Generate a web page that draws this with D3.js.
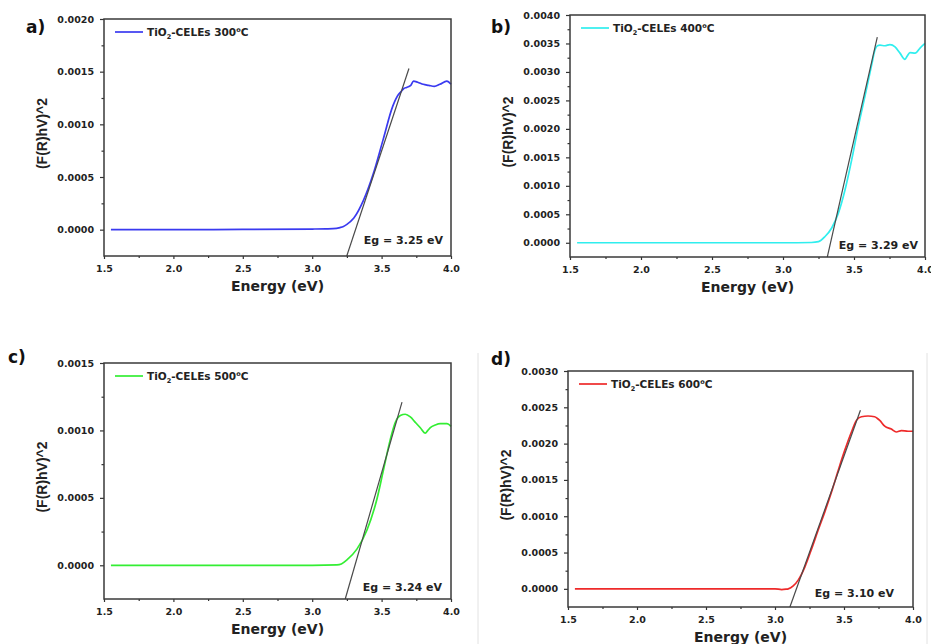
<!DOCTYPE html>
<html>
<head>
<meta charset="utf-8">
<script src="https://cdn.jsdelivr.net/npm/d3@7"></script>
<style>
  body { margin: 0; background: #fff; }
  svg { display: block; }
  .tick text { font-family: "DejaVu Sans", sans-serif; font-weight: bold; font-size: 9.5px; fill: #222; }
  .tick line { stroke: #333; stroke-width: 1.2; }
</style>
</head>
<body>
<svg id="chart" width="931" height="644"></svg>
<script>
// x ticks shared by all four panels
var energyTicks = [1.5, 2.0, 2.5, 3.0, 3.5, 4.0];
var energyMinor = [1.75, 2.25, 2.75, 3.25, 3.75];

// a) 300 C
var energyA = [1.55, 2.0, 2.5, 3.0, 3.1, 3.15, 3.2, 3.225, 3.25, 3.3, 3.37, 3.44, 3.51, 3.58, 3.62, 3.64, 3.66, 3.68, 3.71, 3.73, 3.76, 3.8, 3.84, 3.88, 3.92, 3.97, 4.0];
var fA = [0, 0, 0.000002, 0.000006, 0.000008, 0.00001, 0.00002, 0.00003, 0.00005, 0.00011, 0.00028, 0.00053, 0.00085, 0.00117, 0.00128, 0.00131, 0.00134, 0.00135, 0.00137, 0.00141, 0.0014, 0.00138, 0.00137, 0.00136, 0.00138, 0.00141, 0.00138];
var fitA = [[3.249, -0.00025], [3.697, 0.00153]];

// b) 400 C
var energyB = [1.55, 2.0, 2.5, 3.0, 3.2, 3.25, 3.296, 3.343, 3.39, 3.437, 3.484, 3.53, 3.577, 3.624, 3.648, 3.665, 3.683, 3.718, 3.753, 3.789, 3.824, 3.859, 3.875, 3.894, 3.93, 3.965, 4.0];
var fB = [0, 0, 0, 0, 0.000005, 0.00002, 0.00011, 0.00026, 0.00052, 0.00093, 0.00146, 0.00204, 0.00257, 0.00312, 0.00339, 0.00346, 0.00347, 0.00346, 0.00348, 0.00344, 0.00333, 0.00322, 0.00328, 0.00334, 0.00333, 0.00342, 0.0035];
var fitB = [[3.312, -0.00025], [3.664, 0.00361]];

// c) 500 C
var energyC = [1.55, 2.0, 2.5, 3.0, 3.178, 3.21, 3.25, 3.322, 3.394, 3.466, 3.514, 3.562, 3.599, 3.635, 3.671, 3.707, 3.743, 3.779, 3.815, 3.833, 3.851, 3.887, 3.923, 3.971, 4.0];
var fC = [0, 0, 0, 0, 0.000003, 0.00001, 0.00004, 0.00012, 0.00026, 0.00049, 0.00071, 0.00093, 0.00106, 0.00111, 0.00112, 0.0011, 0.00106, 0.00102, 0.00098, 0.001, 0.00102, 0.00104, 0.00105, 0.00105, 0.00103];
var fitC = [[3.238, -0.00025], [3.647, 0.00121]];

// d) 600 C
var energyD = [1.55, 2.0, 2.5, 3.0, 3.048, 3.08, 3.096, 3.132, 3.168, 3.216, 3.265, 3.313, 3.361, 3.409, 3.458, 3.506, 3.554, 3.59, 3.626, 3.674, 3.722, 3.74, 3.759, 3.795, 3.843, 3.879, 3.916, 3.964, 4.0];
var fD = [0, 0, 0, 0, -0.00001, -0.000005, 0, 0.00004, 0.00012, 0.0003, 0.00055, 0.00081, 0.00106, 0.00133, 0.00163, 0.00191, 0.00216, 0.00232, 0.00237, 0.00238, 0.00237, 0.00235, 0.00232, 0.00224, 0.0022, 0.00216, 0.00218, 0.00217, 0.00217];
var fitD = [[3.108, -0.00025], [3.619, 0.00246]];

var panelLetters = ["a)", "b)", "c)", "d)"];
var temps = ["300", "400", "500", "600"];
var bandGaps = ["3.25", "3.29", "3.24", "3.10"];
var yMaxes = [0.0020, 0.0040, 0.0015, 0.0030];
var colors = ["#3a3af0", "#30eeee", "#33ee33", "#ee2a2a"];

var svg = d3.select("#chart");

// panel d sits on a faintly bordered image in the original
svg.append("line").attr("x1", 478).attr("x2", 478).attr("y1", 353).attr("y2", 644)
    .attr("stroke", "#e2e2e2");
svg.append("line").attr("x1", 927).attr("x2", 927).attr("y1", 353).attr("y2", 644)
    .attr("stroke", "#e2e2e2");

function drawPanel(p) {
  var x = d3.scaleLinear()
      .domain([1.5, 4.0])
      .range([p.left, p.right]);
  var y = d3.scaleLinear()
      .domain([-0.00025, p.yMax])
      .range([p.bottom, p.top]);

  var g = svg.append("g");

  var yMajor = d3.range(0, p.yMax + 1e-9, 0.0005);
  var yMinor = d3.range(0.00025, p.yMax, 0.0005);

  g.append("g")
      .attr("transform", "translate(" + p.left + ",0)")
      .call(d3.axisLeft(y).tickValues(yMinor).tickSize(2.5).tickFormat(""))
      .call(function(s) { s.select(".domain").remove(); });
  g.append("g")
      .attr("transform", "translate(" + p.left + ",0)")
      .call(d3.axisLeft(y).tickValues(yMajor).tickSize(4).tickPadding(6).tickFormat(d3.format(".4f")))
      .call(function(s) { s.select(".domain").remove(); });

  g.append("g")
      .attr("transform", "translate(0," + p.bottom + ")")
      .call(d3.axisBottom(x).tickValues(energyMinor).tickSize(2).tickFormat(""))
      .call(function(s) { s.select(".domain").remove(); });
  g.append("g")
      .attr("transform", "translate(0," + p.bottom + ")")
      .call(d3.axisBottom(x).tickValues(energyTicks).tickSize(3).tickPadding(6).tickFormat(d3.format(".1f")))
      .call(function(s) { s.select(".domain").remove(); });

  var line = d3.line()
      .x(function(d) { return x(d[0]); })
      .y(function(d) { return y(d[1]); })
      .curve(d3.curveMonotoneX);

  g.append("path")
      .datum(d3.zip(p.energy, p.values))
      .attr("d", line)
      .attr("fill", "none")
      .attr("stroke", p.color)
      .attr("stroke-width", 1.7);

  g.append("path")
      .datum(p.fit)
      .attr("d", d3.line().x(function(d) { return x(d[0]); }).y(function(d) { return y(d[1]); }))
      .attr("fill", "none")
      .attr("stroke", "#4a4a4a")
      .attr("stroke-width", 1.2);

  g.append("rect")
      .attr("x", p.left)
      .attr("y", p.top)
      .attr("width", p.right - p.left)
      .attr("height", p.bottom - p.top)
      .attr("fill", "none")
      .attr("stroke", "#3a3a3a")
      .attr("stroke-width", 1.5);

  // legend
  var ly = p.top + 13;
  g.append("line")
      .attr("x1", p.left + 11).attr("x2", p.left + 39)
      .attr("y1", ly).attr("y2", ly)
      .attr("stroke", p.color)
      .attr("stroke-width", 1.7);
  var lt = g.append("text")
      .attr("x", p.left + 43)
      .attr("y", ly + 3.5)
      .style("font-family", "DejaVu Sans, sans-serif")
      .style("font-weight", "bold")
      .style("font-size", "10.5px")
      .attr("fill", "#222");
  lt.append("tspan").text("TiO");
  lt.append("tspan").attr("dy", 3).style("font-size", "6.5px").text("2");
  lt.append("tspan").attr("dy", -3).text("-CELEs " + p.temp);
  lt.append("tspan").attr("dy", -4).style("font-size", "6.5px").text("o");
  lt.append("tspan").attr("dy", 4).text("C");

  g.append("text")
      .attr("x", p.right - p.egDx)
      .attr("y", p.bottom - p.egDy)
      .attr("text-anchor", "end")
      .style("font-family", "DejaVu Sans, sans-serif")
      .style("font-weight", "bold")
      .style("font-size", "11px")
      .attr("fill", "#222")
      .text("Eg = " + p.gap + " eV");

  g.append("text")
      .attr("x", (p.left + p.right) / 2)
      .attr("y", p.bottom + 35)
      .attr("text-anchor", "middle")
      .style("font-family", "DejaVu Sans, sans-serif")
      .style("font-weight", "bold")
      .style("font-size", "14px")
      .attr("fill", "#222")
      .text("Energy (eV)");

  g.append("text")
      .attr("transform", "translate(" + (p.left - 62) + "," + ((p.top + p.bottom) / 2 - 4) + ") rotate(-90)")
      .attr("text-anchor", "middle")
      .attr("dy", "0.35em")
      .style("font-family", "Liberation Sans, Arial, sans-serif")
      .style("font-weight", "bold")
      .style("font-size", "14px")
      .attr("fill", "#222")
      .text("(F(R)hV)^2");

  g.append("text")
      .attr("x", p.labelX)
      .attr("y", p.labelY)
      .style("font-family", "DejaVu Sans, sans-serif")
      .style("font-weight", "bold")
      .style("font-size", "17px")
      .attr("fill", "#111")
      .text(p.letter);
}

var layout = [
  {left: 104, right: 451, top: 19, bottom: 256, labelX: 26, labelY: 33, egDx: 8, egDy: 12},
  {left: 570, right: 925, top: 15, bottom: 257, labelX: 491, labelY: 33, egDx: 7, egDy: 8},
  {left: 104, right: 451, top: 363, bottom: 599, labelX: 8, labelY: 363, egDx: 9, egDy: 8},
  {left: 568, right: 913, top: 371, bottom: 607, labelX: 491, labelY: 365, egDx: 19, egDy: 10}
];
var energies = [energyA, energyB, energyC, energyD];
var values = [fA, fB, fC, fD];
var fits = [fitA, fitB, fitC, fitD];

layout.forEach(function(l, i) {
  l.energy = energies[i];
  l.values = values[i];
  l.fit = fits[i];
  l.yMax = yMaxes[i];
  l.color = colors[i];
  l.temp = temps[i];
  l.gap = bandGaps[i];
  l.letter = panelLetters[i];
  drawPanel(l);
});
</script>
</body>
</html>
